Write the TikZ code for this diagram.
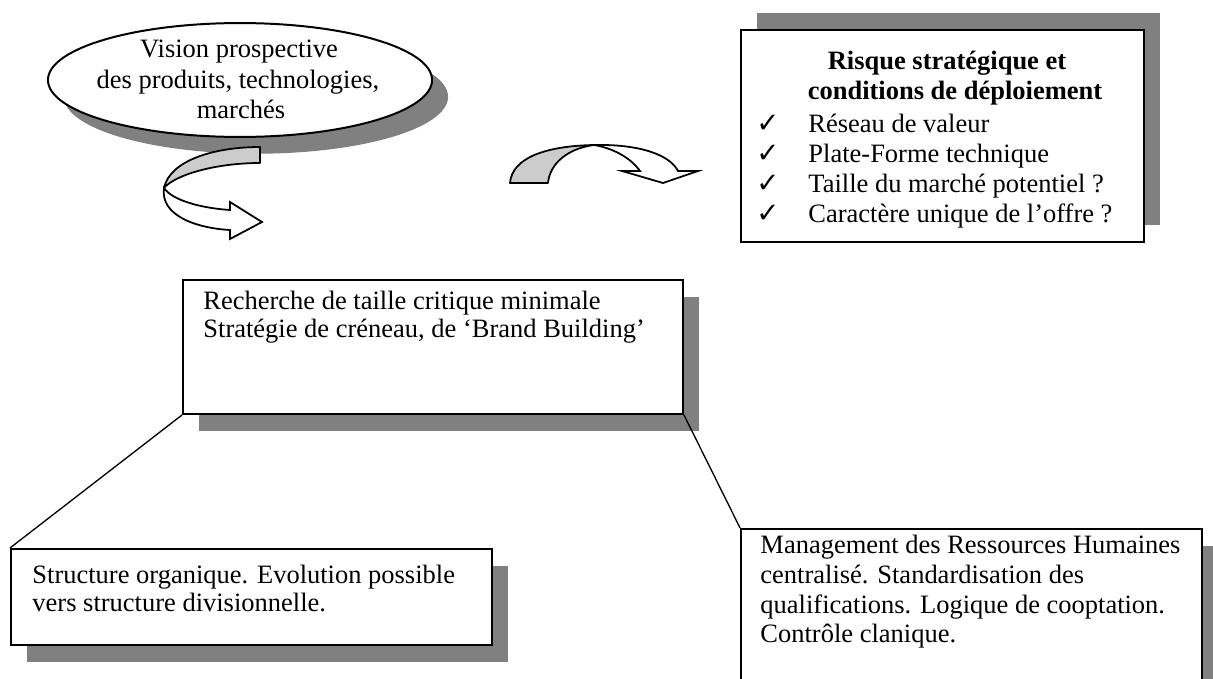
\documentclass[tikz,border=0pt]{standalone}
\usepackage{fontspec}
\setmainfont{Liberation Serif}
\newfontfamily\symfont{DejaVu Sans}
\usetikzlibrary{shapes.geometric,shadows}
\definecolor{shade}{HTML}{808080}
\definecolor{backgray}{HTML}{CCCCCC}
\begin{document}
\begin{tikzpicture}[x=0.453pt,y=-0.453pt,
  txt/.style={anchor=base west,inner sep=0pt,font=\fontsize{12}{13.6}\selectfont},
  ctxt/.style={anchor=base,inner sep=0pt,font=\fontsize{12}{13.6}\selectfont},
  chk/.style={anchor=base,inner sep=0pt,font=\symfont\fontsize{12.5}{13}\selectfont},
  box/.style={draw=black,line width=0.9pt,fill=white,inner sep=0pt,
    drop shadow={shadow xshift=7.25pt,shadow yshift=-7.6pt,fill=shade,opacity=1}},
  boxup/.style={draw=black,line width=0.9pt,fill=white,inner sep=0pt,
    drop shadow={shadow xshift=7.25pt,shadow yshift=7.6pt,fill=shade,opacity=1}},
  link/.style={draw=black,line width=0.6pt},
  ribbonback/.style={draw=black,line width=0.8pt,fill=backgray,line join=round},
  ribbonfront/.style={draw=black,line width=0.8pt,fill=white,line join=miter}]
\fill[white] (0,0) rectangle (1213,679);
\clip (0,0) rectangle (1213,679);

% ellipse
\node[ellipse,box,minimum width=174pt,minimum height=51.6pt] (vision) at (240,80) {};
\node[ctxt] (v1) at (239,58) {Vision prospective};
\node[ctxt] (v2) at (238,88) {des produits, technologies,};
\node[ctxt] (v3) at (241,118) {marchés};

% curled arrow under the ellipse
\filldraw[ribbonback] (260,147) .. controls (215,147) and (170,160) .. (164,188)
  .. controls (175,175) and (215,163) .. (260,163) -- cycle;
\filldraw[ribbonfront] (164,188) .. controls (160,215) and (195,228) .. (230,230)
  -- (230,239) -- (262,222) -- (230,202) -- (230,210)
  .. controls (200,208) and (172,200) .. (164,188) -- cycle;

% curved arrow in the middle
\filldraw[ribbonback] (510,183) .. controls (512,158) and (545,146) .. (594,145)
  .. controls (570,148) and (550,162) .. (548,183) -- cycle;
\filldraw[ribbonfront] (594,145) .. controls (640,144) and (670,155) .. (678,171)
  -- (698,171) -- (663,183) -- (622,171) -- (640,171)
  .. controls (630,157) and (612,148) .. (594,145) -- cycle;

% risk box
\node[boxup,minimum width=182.6pt,minimum height=96pt] (risk) at (942.5,136) {};
\node[ctxt,font=\fontsize{12}{13.6}\selectfont\bfseries] (r0) at (947,69) {Risque stratégique et};
\node[ctxt,font=\fontsize{12}{13.6}\selectfont\bfseries] (r1) at (955,99) {conditions de déploiement};
\node[chk] (c1) at (768,132) {✓};
\node[chk] (c2) at (768,162) {✓};
\node[chk] (c3) at (768,192) {✓};
\node[chk] (c4) at (768,222) {✓};
\node[txt] (r2) at (808,132) {Réseau de valeur};
\node[txt] (r3) at (808,162) {Plate-Forme technique};
\node[txt] (r4) at (808,192) {Taille du marché potentiel ?};
\node[txt] (r5) at (808,222) {Caractère unique de l’offre ?};

% central box
\node[box,minimum width=226.5pt,minimum height=60.7pt] (center) at (433,347) {};
\node[txt] (m1) at (203,309) {Recherche de taille critique minimale};
\node[txt] (m2) at (203,337) {Stratégie de créneau, de ‘Brand Building’};

% bottom left box
\node[box,minimum width=217.9pt,minimum height=43.5pt] (left) at (251.5,597) {};
\node[txt] (l1) at (32,583) {Structure organique. Evolution possible};
\node[txt] (l2) at (32,611) {vers structure divisionnelle.};

% bottom right box (runs past the lower edge)
\node[box,minimum width=208.8pt,minimum height=77.5pt] (right) at (971.5,614.5) {};
\node[txt] (h1) at (760,553) {Management des Ressources Humaines};
\node[txt] (h2) at (760,583) {centralisé. Standardisation des};
\node[txt] (h3) at (760,613) {qualifications. Logique de cooptation.};
\node[txt] (h4) at (760,642) {Contrôle clanique.};

% connectors
\draw[link] (center.south west) -- (left.north west);
\draw[link] (center.south east) -- (right.north west);
\end{tikzpicture}
\end{document}
